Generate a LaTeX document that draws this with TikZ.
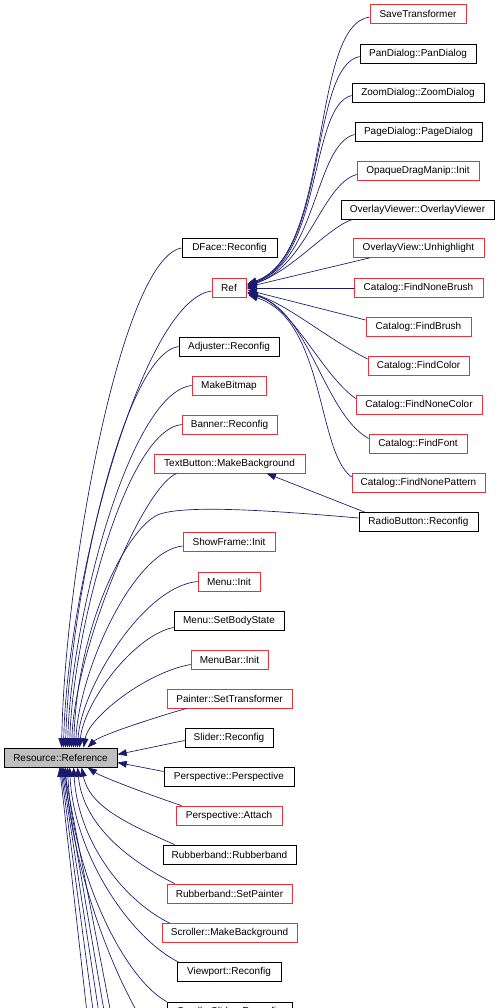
\documentclass[tikz,border=0pt]{standalone}
\usepackage{fontspec}
\setmainfont{Liberation Sans}
\usetikzlibrary{arrows.meta,calc}
\definecolor{edgeblue}{HTML}{191970}
\definecolor{boxred}{HTML}{E8323C}
\begin{document}
\begin{tikzpicture}[x=0.75pt,y=-0.75pt,
  nbox/.style={draw=black, rectangle, line width=0.6pt, minimum height=14.25pt, inner sep=0pt, fill=white, font=\fontsize{7.5}{9}\selectfont},
  rbox/.style={nbox, draw=boxred},
  wd/.style={minimum width=#1*0.75pt},
  cedge/.style={draw=edgeblue, line width=0.5pt, {Triangle[length=7pt,width=5pt]}-}]
\useasboundingbox (0,0) rectangle (500,1008);
% main node
\node[nbox, fill=gray!50, wd=113] (rr) at (60.5,757.5) {Resource::Reference};
% right column
\node[rbox, wd=96]  (save)   at (418,14)    {SaveTransformer};
\node[nbox, wd=116] (pan)    at (418,53.5)  {PanDialog::PanDialog};
\node[nbox, wd=132] (zoomd)  at (418,92.5)  {ZoomDialog::ZoomDialog};
\node[nbox, wd=127] (paged)  at (418.5,131.5) {PageDialog::PageDialog};
\node[rbox, wd=122] (opaque) at (418,170.5) {OpaqueDragManip::Init};
\node[nbox, wd=153] (ovv)    at (417.5,209.5) {OverlayViewer::OverlayViewer};
\node[rbox, wd=131] (unh)    at (418.5,248) {OverlayView::Unhighlight};
\node[rbox, wd=129] (fnb)    at (418.5,288) {Catalog::FindNoneBrush};
\node[rbox, wd=105] (fb)     at (418.5,327) {Catalog::FindBrush};
\node[rbox, wd=101] (fc)     at (418.5,366) {Catalog::FindColor};
\node[rbox, wd=126] (fnc)    at (419,404.5) {Catalog::FindNoneColor};
\node[rbox, wd=98]  (ff)     at (418,443.5) {Catalog::FindFont};
\node[rbox, wd=133] (fnp)    at (418.5,483) {Catalog::FindNonePattern};
\node[nbox, wd=119] (radio)  at (418.5,522) {RadioButton::Reconfig};
% middle column
\node[nbox, wd=95]  (dface) at (229.5,248)  {DFace::Reconfig};
\node[rbox, wd=34]  (refn)  at (229,288)    {Ref};
\node[nbox, wd=100] (adj)   at (229,346.5)  {Adjuster::Reconfig};
\node[rbox, wd=74]  (mkb)   at (229,385.5)  {MakeBitmap};
\node[rbox, wd=95]  (ban)   at (229.5,424.5) {Banner::Reconfig};
\node[rbox, wd=151] (tbm)   at (229.5,463.5) {TextButton::MakeBackground};
\node[rbox, wd=92]  (sfi)   at (229,542)    {ShowFrame::Init};
\node[rbox, wd=62]  (mi)    at (229,581.5)  {Menu::Init};
\node[nbox, wd=110] (msb)   at (229,620.5)  {Menu::SetBodyState};
\node[rbox, wd=77]  (mbi)   at (229.5,659.5) {MenuBar::Init};
\node[rbox, wd=125] (pst)   at (229.5,698.5) {Painter::SetTransformer};
\node[nbox, wd=88]  (sr)    at (229,737.5)  {Slider::Reconfig};
\node[nbox, wd=130] (pp)    at (229,776.5)  {Perspective::Perspective};
\node[rbox, wd=106] (pa)    at (229,815.5)  {Perspective::Attach};
\node[nbox, wd=133] (rbr)   at (229.5,854.5) {Rubberband::Rubberband};
\node[rbox, wd=125] (rsp)   at (229.5,893.5) {Rubberband::SetPainter};
\node[rbox, wd=135] (smb)   at (229.5,933)  {Scroller::MakeBackground};
\node[nbox, wd=104] (vr)    at (229,972)    {Viewport::Reconfig};
\node[nbox, wd=125] (ssr)   at (229.5,1011.5) {ScrollerSlider::Reconfig};
% coordinates
\coordinate (rbend) at (160,514);
\coordinate (o1) at (90,1040);
\coordinate (o2) at (97,1040);
\coordinate (o3) at (103,1040);
\coordinate (o4) at (109,1040);
\coordinate (o5) at (116,1040);
\coordinate (o6) at (160,1045);
% edges into Ref
\draw[cedge] ($(refn.east)+(1,-4)$) .. controls +(85,-30) and +(-60,8) .. ($(save.west)+(0,3)$);
\draw[cedge] ($(refn.east)+(1,-4)$) .. controls +(80,-28) and +(-50,10) .. ($(pan.west)+(0,3)$);
\draw[cedge] ($(refn.east)+(1,-3)$) .. controls +(75,-26) and +(-42,10) .. ($(zoomd.west)+(0,3)$);
\draw[cedge] ($(refn.east)+(1,-3)$) .. controls +(70,-24) and +(-40,10) .. ($(paged.west)+(0,3)$);
\draw[cedge] ($(refn.east)+(1,-2)$) .. controls +(60,-20) and +(-35,10) .. ($(opaque.west)+(0,4)$);
\draw[cedge] ($(refn.east)+(1,-2)$) .. controls +(45,-15) and +(-25,8) .. ($(ovv.south west)+(12,0)$);
\draw[cedge] ($(refn.east)+(1,-1)$) -- ($(unh.south west)+(17,0)$);
\draw[cedge] (refn.east) -- (fnb.west);
\draw[cedge] ($(refn.east)+(1,2)$) -- ($(fb.west)+(0,-7)$);
\draw[cedge] ($(refn.east)+(1,4)$) .. controls +(40,12) and +(-40,-20) .. ($(fc.west)+(0,-7)$);
\draw[cedge] ($(refn.east)+(1,5)$) .. controls +(45,12) and +(-35,-25) .. ($(fnc.west)+(0,-6)$);
\draw[cedge] ($(refn.east)+(2,6)$) .. controls +(60,15) and +(-45,-25) .. ($(ff.west)+(0,-5)$);
\draw[cedge] ($(refn.east)+(2,7)$) .. controls +(77,25) and +(-35,-25) .. ($(fnp.west)+(0,-6)$);
% radio to text button
\draw[cedge] ($(tbm.south west)+(113,0)$) -- ($(radio.north west)+(6,0)$);
% edges into Resource::Reference from above
\draw[cedge] ($(rr.north west)+(58,0)$) .. controls +(3,-175) and +(-60,10) .. (dface.west);
\draw[cedge] ($(rr.north west)+(60,0)$) .. controls +(3,-160) and +(-70,9) .. ($(refn.west)+(0,3)$);
\draw[cedge] ($(rr.north west)+(62,0)$) .. controls +(3,-140) and +(-56,8) .. (adj.west);
\draw[cedge] ($(rr.north west)+(64,0)$) .. controls +(3,-127) and +(-62,7) .. (mkb.west);
\draw[cedge] ($(rr.north west)+(66,0)$) .. controls +(3,-113) and +(-56,6) .. (ban.west);
\draw[cedge] ($(rr.north west)+(68,0)$) .. controls +(3,-96) and +(-35,15) .. ($(tbm.south west)+(23,0)$);
\draw[cedge] ($(rr.north west)+(70,0)$) .. controls +(4,-128) and +(-30,10) .. (rbend) .. controls +(30,-10) and +(-70,-6) .. ($(radio.west)+(0,-4)$);
\draw[cedge] ($(rr.north west)+(72,0)$) .. controls +(3,-75) and +(-50,5) .. ($(sfi.west)+(0,4)$);
\draw[cedge] ($(rr.north west)+(74,0)$) .. controls +(3,-58) and +(-55,5) .. (mi.west);
\draw[cedge] ($(rr.north west)+(76,0)$) .. controls +(4,-45) and +(-40,8) .. ($(msb.south west)+(0,-3)$);
\draw[cedge] ($(rr.north west)+(80,0)$) .. controls +(5,-30) and +(-45,8) .. ($(mbi.west)+(0,5)$);
\draw[cedge] ($(rr.north west)+(84,0)$) .. controls +(12,-12) and +(-35,10) .. ($(pst.south west)+(20,0)$);
\draw[cedge] ($(rr.east)+(0,-3)$) -- ($(sr.west)+(0,3)$);
\draw[cedge] ($(rr.east)+(0,5)$) -- ($(pp.west)+(0,-5)$);
% edges into Resource::Reference from below
\draw[cedge] ($(rr.south west)+(84,0)$) .. controls +(15,10) and +(-30,-10) .. ($(pa.north west)+(6,0)$);
\draw[cedge] ($(rr.south west)+(78,0)$) .. controls +(8,40) and +(-45,-20) .. ($(rbr.north west)+(12,0)$);
\draw[cedge] ($(rr.south west)+(74,0)$) .. controls +(5,55) and +(-50,-25) .. ($(rsp.north west)+(8,0)$);
\draw[cedge] ($(rr.south west)+(70,0)$) .. controls +(4,70) and +(-50,-25) .. ($(smb.north west)+(8,0)$);
\draw[cedge] ($(rr.south west)+(66,0)$) .. controls +(4,85) and +(-50,-25) .. ($(vr.north west)+(2,0)$);
\draw[cedge] ($(rr.south west)+(64,0)$) .. controls +(4,100) and +(-45,-25) .. (ssr.north west);
\draw[cedge] ($(rr.south west)+(62,0)$) .. controls +(5,100) and +(-40,-45) .. (o6);
\draw[cedge] ($(rr.south west)+(60,0)$) -- (o5);
\draw[cedge] ($(rr.south west)+(59,0)$) -- (o4);
\draw[cedge] ($(rr.south west)+(58,0)$) -- (o3);
\draw[cedge] ($(rr.south west)+(57,0)$) -- (o2);
\draw[cedge] ($(rr.south west)+(56,0)$) -- (o1);
\end{tikzpicture}
\end{document}
